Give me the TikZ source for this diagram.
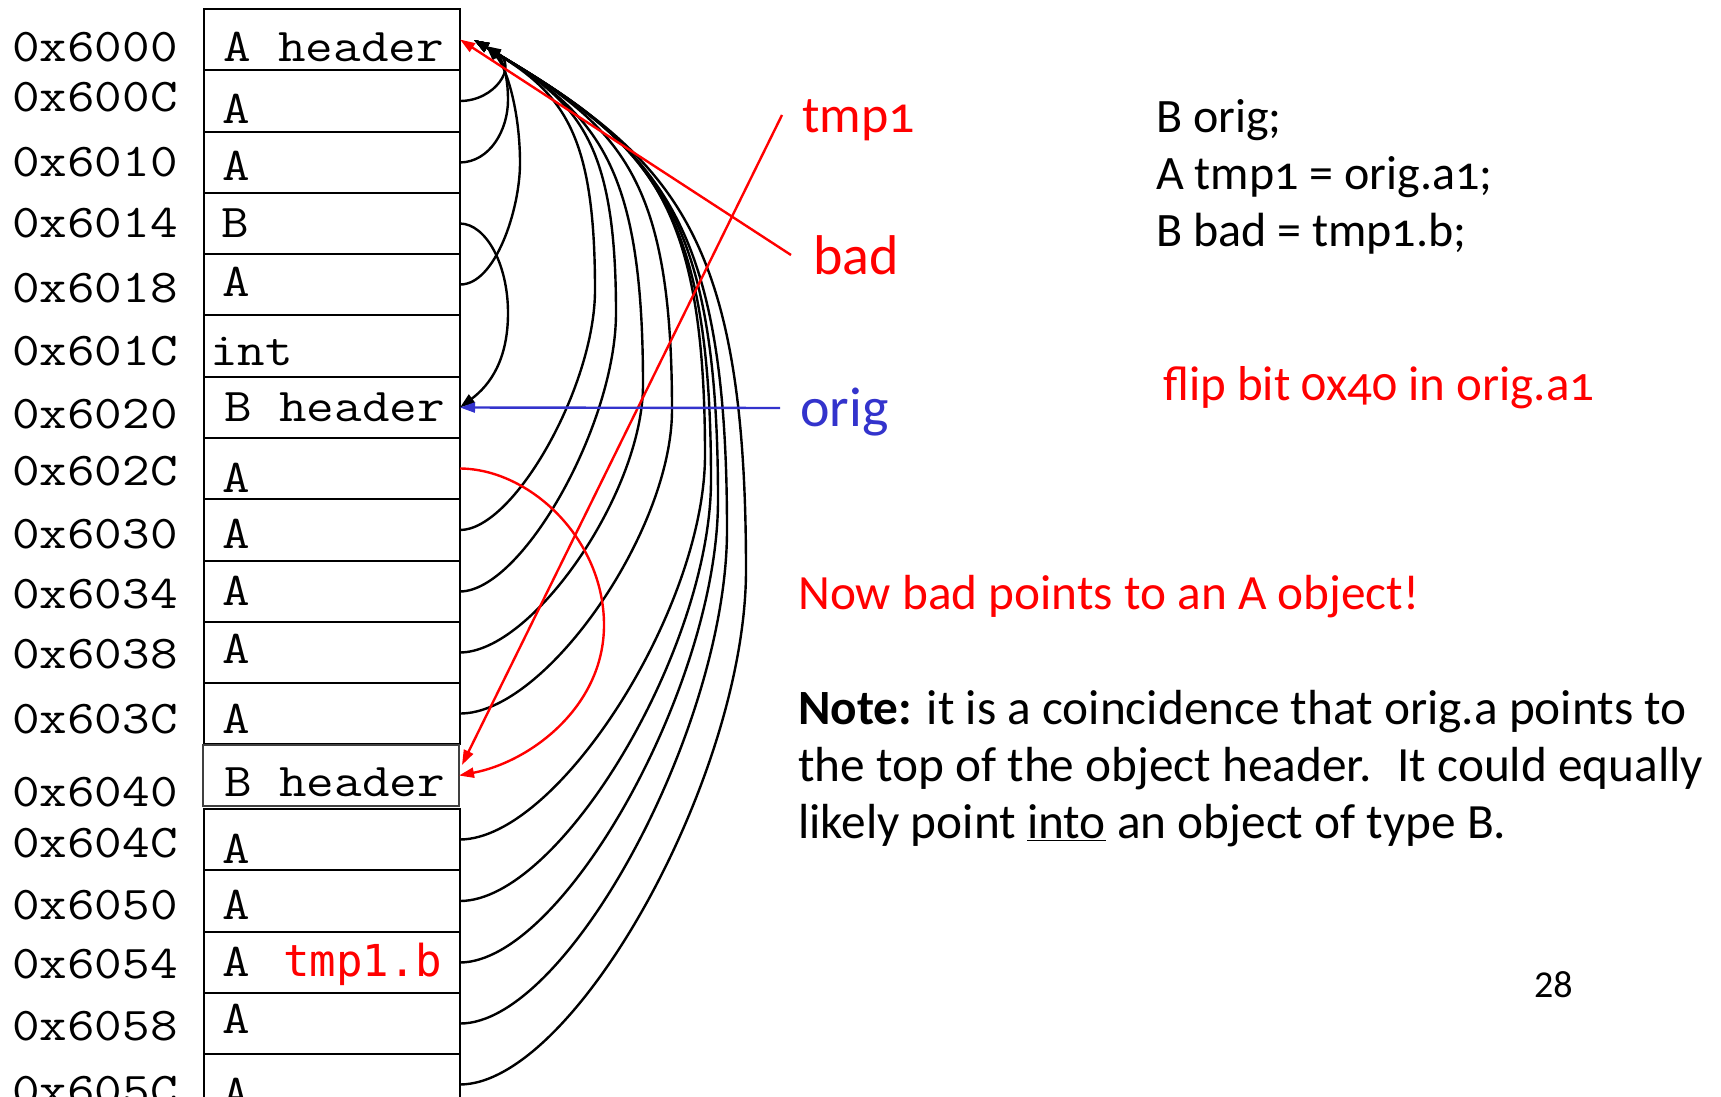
\documentclass[tikz,border=0pt]{standalone}
\usepackage{fontspec}
\setmainfont{Carlito}[Numbers=OldStyle]
\newfontfamily\addrfont{Latin Modern Mono}[FakeStretch=1.14]
\newfontfamily\monob{DejaVu Sans Mono}
\usetikzlibrary{arrows.meta,calc}
\definecolor{oblue}{RGB}{51,51,204}
\definecolor{ored}{RGB}{255,0,0}
\begin{document}
\begin{tikzpicture}[x=1pt,y=-1pt,
  cell/.style={draw=black, line width=2.2pt, minimum width=256pt, inner sep=0pt, outer sep=0pt, anchor=north west},
  addr/.style={anchor=base west, inner sep=0pt, font=\addrfont\fontsize{47}{47}\selectfont},
  ctext/.style={anchor=base west, inner sep=0pt, font=\addrfont\fontsize{47}{47}\selectfont},
  lbl/.style={anchor=base west, inner sep=0pt, font=\fontsize{56}{56}\selectfont},
  body/.style={anchor=base west, inner sep=0pt, font=\fontsize{49.3}{49.3}\selectfont},
  code/.style={anchor=base west, inner sep=0pt, font=\fontsize{48}{48}\selectfont},
  ptr/.style={line width=2.4pt, -{Triangle[length=15pt,width=10pt]}},
  redptr/.style={ptr, draw=ored},
  blueptr/.style={ptr, draw=oblue},
]
\useasboundingbox (0,0) rectangle (1721,1097);
% memory cells
\foreach \i/\t/\b in {0/9/70, 1/70/132, 2/132/193, 3/193/254, 4/254/315, 5/315/377, 6/377/438, 7/438/499, 8/499/561, 9/561/622, 10/622/683, 11/683/744, 13/809/870, 14/870/932, 15/932/993, 16/993/1054, 17/1054/1115}
  \node[cell, minimum height={(\b-\t)*1pt}] (c\i) at (204,\t) {};
\node[cell, draw=black!75, minimum height=61pt] (c12) at (203,745) {};
% addresses
\foreach \n/\a/\yb in {0/0x6000/62, 1/0x600C/112, 2/0x6010/176, 3/0x6014/237, 4/0x6018/302, 5/0x601C/365, 6/0x6020/428, 7/0x602C/485, 8/0x6030/548, 9/0x6034/608, 10/0x6038/668, 11/0x603C/733, 12/0x6040/806, 13/0x604C/857, 14/0x6050/919, 15/0x6054/978, 16/0x6058/1040, 17/0x605C/1105}
  \node[addr] (a\n) at (12,\yb) {\a};
% cell contents
\node[ctext] (t0) at (223,62) {A header};
\node[ctext] (t1) at (222,124) {A};
\node[ctext] (t2) at (222,180) {A};
\node[ctext] (t3) at (221,237) {B};
\node[ctext] (t4) at (222,296) {A};
\node[ctext] (t5) at (210,365) {int};
\node[ctext] (t6) at (224,421) {B header};
\node[ctext] (t7) at (222,492) {A};
\node[ctext] (t8) at (222,548) {A};
\node[ctext] (t9) at (222,605) {A};
\node[ctext] (t10) at (222,663) {A};
\node[ctext] (t11) at (222,733) {A};
\node[ctext] (t12) at (224,796) {B header};
\node[ctext] (t13) at (222,863) {A};
\node[ctext] (t14) at (222,919) {A};
\node[ctext] (t15) at (222,976) {A};
\node[ctext] (t16) at (222,1033) {A};
\node[ctext] (t17) at (222,1107) {A};
\node[anchor=base west, inner sep=0pt, text=ored, font=\monob\fontsize{44}{44}\selectfont] (tb) at (283,976) {tmp1.b};
% arrow end points at the A header
\coordinate (hA1) at (474,40);
\coordinate (hA2) at (486,46);
% pointers into A header (large arcs)
\foreach \r/\ys/\xm/\ym in {8/530/595/290, 9/591/616/313, 10/652/643/385, 11/714/672/410, 13/839/705/455, 14/901/711/480, 15/962/718/500, 16/1024/727/530, 17/1084/746/570}
  \draw[ptr] (c\r.east) .. controls ({460+0.4*(\xm-460)},\ys) and (\xm,{\ym+0.4*(\ys-\ym)}) .. (\xm,\ym)
     .. controls (\xm,{\ym-0.65*(\ym-40)}) and ({474+0.72*(\xm-474)},{40+0.425*(\xm-474)}) .. (hA1);
% small arcs
\draw[ptr] (c1.east) .. controls (495,101) and (518,66) .. (hA2);
\draw[ptr] (c2.east) .. controls (490,162) and (508,130) .. (508,100) .. controls (508,75) and (502,58) .. (hA2);
\draw[ptr] (c4.east) .. controls (495,285) and (520,210) .. (520,163) .. controls (520,110) and (506,66) .. (hA2);
% B -> B header
\draw[ptr] (c3.east) .. controls (486,224) and (508,264) .. (508,313) .. controls (508,360) and (490,385) .. (c6.east);
% red arc A -> B header at 0x6040
\draw[redptr] (c7.east) .. controls (530,469) and (604,539) .. (604,625) .. controls (604,707) and (530,762) .. (c12.east);
% labels
\node[lbl, text=ored, font=\fontsize{52}{52}\selectfont] (ltmp) at (802,133) {tmp1};
\node[lbl, text=ored] (lbad) at (813,274) {bad};
\node[lbl, text=oblue] (lorig) at (800,426) {orig};
\coordinate (tmptail) at (782,115);
\coordinate (badtail) at (791,255);
\coordinate (origtail) at (780,408);
\draw[redptr] (tmptail) -- ($(c12.north east)+(3,20)$);
\draw[redptr] (badtail) -- (c0.east);
\draw[blueptr] (origtail) -- (c6.east);
% code
\node[code] (code1) at (1156,132) {B orig;};
\node[code] (code2) at (1156,189) {A tmp1 = orig.a1;};
\node[code] (code3) at (1156,246) {B bad = tmp1.b;};
\node[body, text=ored, font=\fontsize{49}{49}\selectfont] (flip) at (1163,400) {flip bit 0x40 in orig.a1};
\node[body, text=ored] (now) at (798,609) {Now bad points to an A object!};
\node[body] (note1) at (798,724) {\textbf{Note:} it is a coincidence that orig.a points to};
\node[body] (note2) at (798,781) {the top of the object header.~ It could equally};
\node[body] (note3) at (798,838) {likely point \underline{into} an object of type B.};
\node[anchor=base west, inner sep=0pt, font=\addfontfeature{Numbers=Lining}\fontsize{38}{38}\selectfont] (page) at (1534,997) {28};
\end{tikzpicture}
\end{document}
